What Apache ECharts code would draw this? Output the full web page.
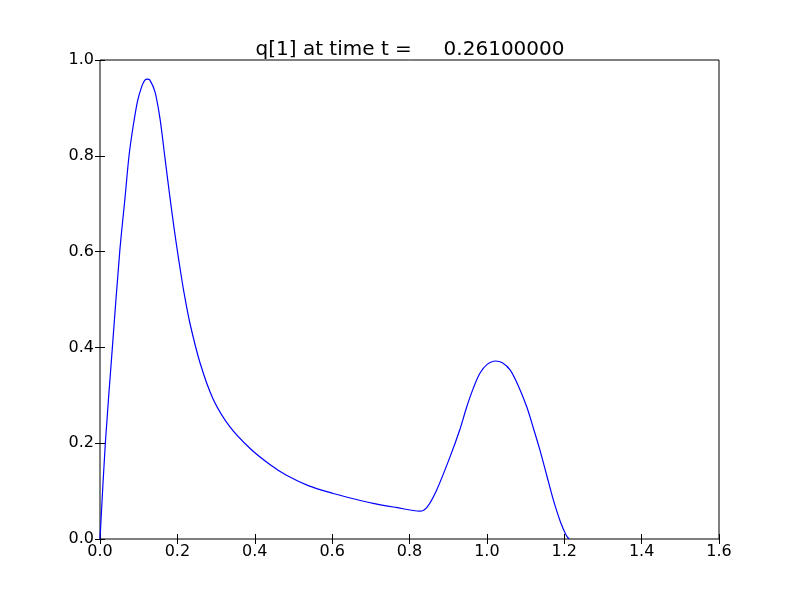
<!DOCTYPE html>
<html>
<head>
<meta charset="utf-8">
<script src="https://cdn.jsdelivr.net/npm/echarts@6/dist/echarts.min.js"></script>
<style>html,body{margin:0;padding:0;background:#fff}#c{width:800px;height:600px}</style>
</head>
<body>
<div id="c"></div>
<script>
var titleText = "q[1] at time t =     0.26100000";
var xValues = [0.0, 0.0138, 0.032, 0.051, 0.065, 0.075, 0.085, 0.097, 0.108, 0.116, 0.123, 0.129, 0.142, 0.155, 0.168, 0.181, 0.193, 0.205, 0.217, 0.232, 0.2585, 0.2926, 0.336, 0.388, 0.440, 0.482, 0.540, 0.603, 0.655, 0.706, 0.765, 0.827, 0.845, 0.870, 0.905, 0.930, 0.948, 0.965, 0.982, 1.000, 1.0225, 1.040, 1.060, 1.080, 1.103, 1.120, 1.137, 1.155, 1.172, 1.190, 1.205, 1.213];
var yValues = [0.0, 0.200, 0.400, 0.600, 0.715, 0.800, 0.858, 0.914, 0.945, 0.958, 0.960, 0.958, 0.934, 0.878, 0.795, 0.712, 0.640, 0.575, 0.515, 0.452, 0.368, 0.292, 0.234, 0.189, 0.155, 0.133, 0.111, 0.095, 0.084, 0.0745, 0.066, 0.058, 0.066, 0.102, 0.172, 0.228, 0.276, 0.315, 0.346, 0.364, 0.3716, 0.368, 0.353, 0.322, 0.276, 0.232, 0.186, 0.132, 0.081, 0.036, 0.008, 0.0];
var xTicks = [0.0, 0.2, 0.4, 0.6, 0.8, 1.0, 1.2, 1.4, 1.6];
var yTicks = [0.0, 0.2, 0.4, 0.6, 0.8, 1.0];

var data = xValues.map(function (x, i) { return [x, yValues[i]]; });
var font = "DejaVu Sans";
var chart = echarts.init(document.getElementById('c'), null, {renderer: 'canvas'});
function axisCommon(showLabel, margin) {
  return {
    axisLine: {show: false},
    axisTick: {show: true, inside: true, length: 5, lineStyle: {color: '#000', width: 1}},
    axisLabel: {show: showLabel, color: '#000', fontFamily: font, fontSize: 16, margin: margin,
      showMinLabel: true, showMaxLabel: true, hideOverlap: false,
      formatter: function (v) { return Number(v).toFixed(1); }},
    splitLine: {show: false}
  };
}
var xb = Object.assign({type: 'value', min: xTicks[0], max: xTicks[xTicks.length-1], interval: 0.2, position: 'bottom', gridIndex: 0}, axisCommon(true, 5));
var xt = Object.assign({type: 'value', min: xTicks[0], max: xTicks[xTicks.length-1], interval: 0.2, position: 'top', gridIndex: 0}, axisCommon(false, 5));
var yl = Object.assign({type: 'value', min: yTicks[0], max: yTicks[yTicks.length-1], interval: 0.2, position: 'left', gridIndex: 0}, axisCommon(true, 6));
var yr = Object.assign({type: 'value', min: yTicks[0], max: yTicks[yTicks.length-1], interval: 0.2, position: 'right', gridIndex: 0}, axisCommon(false, 6));
chart.setOption({
  animation: false,
  backgroundColor: '#fff',
  title: {text: titleText, left: 405, textAlign: 'center', top: 35,
    textStyle: {fontFamily: font, fontSize: 20, fontWeight: 'normal', color: '#000'}},
  grid: {left: 100, right: 81, top: 60, bottom: 61, show: true, borderColor: '#000', borderWidth: 1, backgroundColor: 'transparent'},
  xAxis: [xb, xt],
  yAxis: [yl, yr],
  series: [{type: 'line', data: data, xAxisIndex: 0, yAxisIndex: 0, smooth: 0.3, showSymbol: false,
    lineStyle: {color: '#0000ff', width: 1.2}}]
});
</script>
</body>
</html>
